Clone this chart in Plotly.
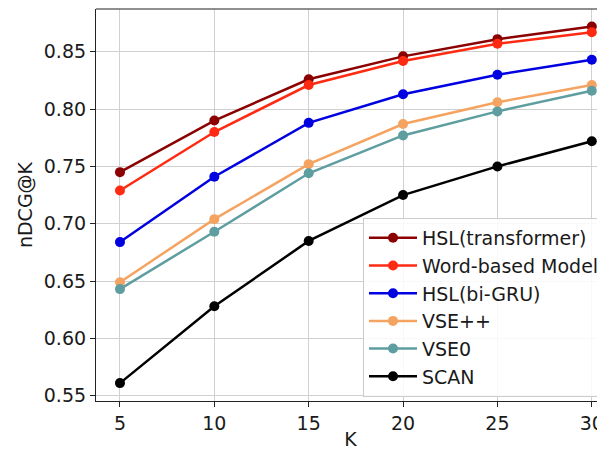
import plotly.graph_objects as go

K = [5, 10, 15, 20, 25, 30]
series_names = ["HSL(transformer)", "Word-based Model", "HSL(bi-GRU)", "VSE++", "VSE0", "SCAN"]
hsl_transformer = [0.745, 0.790, 0.826, 0.846, 0.861, 0.872]
word_based = [0.729, 0.780, 0.821, 0.842, 0.857, 0.867]
hsl_bigru = [0.684, 0.741, 0.788, 0.813, 0.830, 0.843]
vsepp = [0.649, 0.704, 0.752, 0.787, 0.806, 0.821]
vse0 = [0.643, 0.693, 0.744, 0.777, 0.798, 0.816]
scan = [0.561, 0.628, 0.685, 0.725, 0.750, 0.772]
y_ticks = [0.55, 0.60, 0.65, 0.70, 0.75, 0.80, 0.85]

values = [hsl_transformer, word_based, hsl_bigru, vsepp, vse0, scan]
colors = ["#8B0000", "#FF2A12", "#0000E0", "#F4A460", "#5F9EA0", "#000000"]

font = "DejaVu Sans"
fs = 19
fig = go.Figure()
for name, ys, c in zip(series_names, values, colors):
    fig.add_trace(go.Scatter(
        x=K, y=ys, name=name, mode="lines+markers",
        line=dict(color=c, width=2.5),
        marker=dict(color=c, size=10),
    ))

fig.update_layout(
    width=597, height=442,
    margin=dict(l=88, r=0, t=1, b=49),
    paper_bgcolor="white", plot_bgcolor="white",
    font=dict(family=font, size=fs, color="#1a1a1a"),
    showlegend=True,
    legend=dict(
        x=0.525, y=0.467, xanchor="left", yanchor="top",
        bgcolor="rgba(255,255,255,0.85)", bordercolor="#cccccc", borderwidth=1,
        font=dict(family=font, size=fs, color="#1a1a1a"),
        tracegroupgap=0, itemwidth=48,
    ),
    xaxis=dict(
        range=[3.73, 30.70], tickvals=K, ticktext=[str(k) for k in K],
        showgrid=True, gridcolor="#d0d0d0", gridwidth=1,
        ticks="outside", ticklen=5, tickcolor="#222",
        showline=True, linecolor="#222", linewidth=1.2,
        zeroline=False, automargin=False,
        tickfont=dict(family=font, size=fs),
        title=dict(text="K", font=dict(family=font, size=fs), standoff=2),
    ),
    yaxis=dict(
        range=[0.5454, 0.8873], tickvals=y_ticks,
        ticktext=[f"{v:.2f}" for v in y_ticks],
        showgrid=True, gridcolor="#d0d0d0", gridwidth=1,
        ticks="outside", ticklen=5, tickcolor="#222",
        showline=True, linecolor="#222", linewidth=1.2,
        zeroline=False, automargin=False,
        tickfont=dict(family=font, size=fs),
        title=dict(text="nDCG@K", font=dict(family=font, size=fs), standoff=6),
    ),
    shapes=[dict(type="line", xref="paper", yref="paper", x0=0, x1=1, y0=1, y1=1,
                 line=dict(color="#222", width=1.2))],
)

fig.write_html("out.html")
